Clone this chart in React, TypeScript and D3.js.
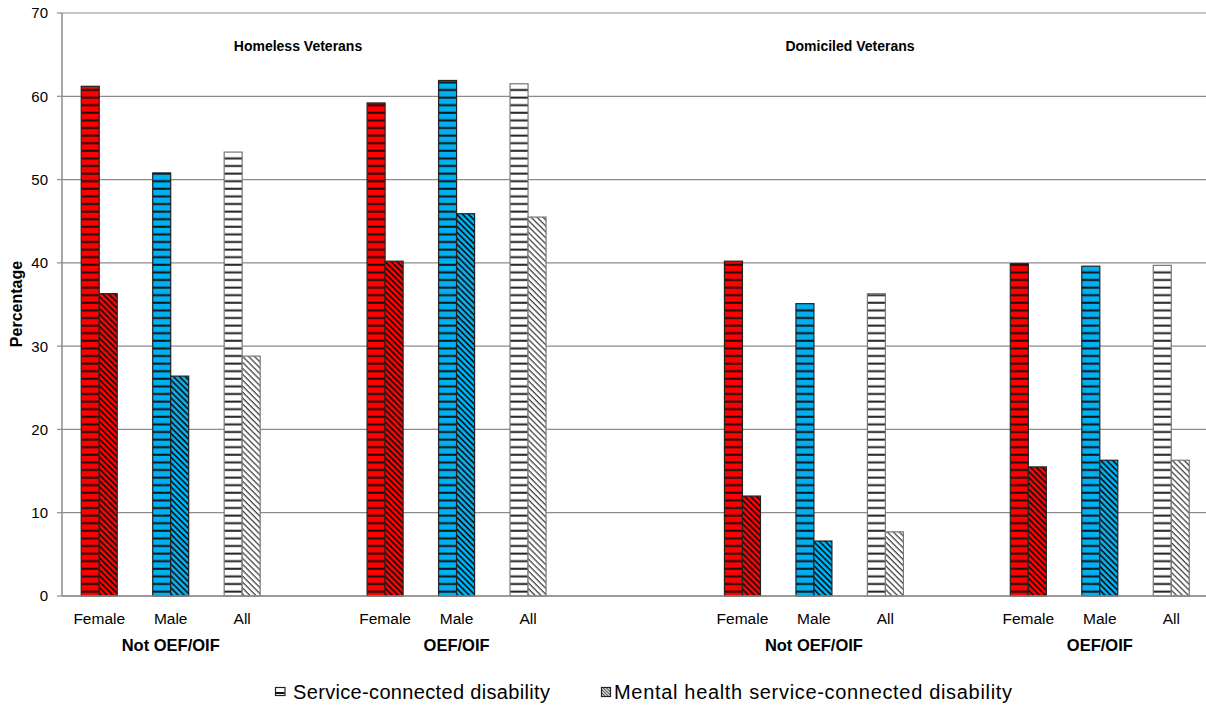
import React from "react";
import * as d3 from "d3";

const W = 1206;
const H = 705;

const slots = ["NF", "NM", "NA", "g1", "OF", "OM", "OA", "g2", "g3", "DNF", "DNM", "DNA", "g4", "DOF", "DOM", "DOA"];
const barSlots = ["NF", "NM", "NA", "OF", "OM", "OA", "DNF", "DNM", "DNA", "DOF", "DOM", "DOA"];
const subLabels = ["Female", "Male", "All", "Female", "Male", "All", "Female", "Male", "All", "Female", "Male", "All"];
const kinds = ["red", "blue", "white", "red", "blue", "white", "red", "blue", "white", "red", "blue", "white"];
const serviceConnected = [61.2, 50.8, 53.3, 59.2, 61.9, 61.5, 40.2, 35.1, 36.3, 39.9, 39.6, 39.7];
const mentalHealth = [36.3, 26.4, 28.8, 40.2, 45.9, 45.5, 12.0, 6.6, 7.7, 15.5, 16.3, 16.3];
const groupLabels = ["Not OEF/OIF", "OEF/OIF", "Not OEF/OIF", "OEF/OIF"];
const groupCenters = ["NM", "OM", "DNM", "DOM"];
const yTicks = [0, 10, 20, 30, 40, 50, 60, 70];
const legendLabels = ["Service-connected disability", "Mental health service-connected disability"];

const colors: Record<string, string> = { red: "#FF0000", blue: "#00B0F0", white: "#FFFFFF" };

export default function App() {
  const left = 62;
  const right = 1207;
  const top = 13;
  const bottom = 596;
  const x = d3.scaleBand<string>().domain(slots).range([left + 1.5, right]).paddingInner(0).paddingOuter(0);
  const y = d3.scaleLinear().domain([0, 70]).range([bottom, top]);
  const bw = x.bandwidth();
  const barW = 18;

  return (
    <div style={{ position: "absolute", left: 0, top: 0 }}>
      <svg width={W} height={H} style={{ display: "block", fontFamily: "Arial, 'Liberation Sans', sans-serif" }}>
        <defs>
          {Object.keys(colors).map((k) => (
            <pattern key={"h" + k} id={"h-" + k} patternUnits="userSpaceOnUse" width={8} height={7.6}>
              <rect width={8} height={7.6} fill={colors[k]} />
              <rect y={5.4} width={8} height={2} fill={k === "white" ? "#222" : "#111"} />
            </pattern>
          ))}
          {Object.keys(colors).map((k) => (
            <pattern key={"d" + k} id={"d-" + k} patternUnits="userSpaceOnUse" width={8} height={4.2} patternTransform="rotate(45)">
              <rect width={8} height={4.2} fill={colors[k]} />
              <rect y={0} width={8} height={k === "white" ? 1.3 : 1.6} fill={k === "white" ? "#444" : "#111"} />
            </pattern>
          ))}
          <pattern id="leg-d" patternUnits="userSpaceOnUse" width={3} height={2.2} patternTransform="rotate(45)">
            <rect width={3} height={2.2} fill="#fff" />
            <rect width={3} height={1} fill="#333" />
          </pattern>
        </defs>

        {/* gridlines */}
        {yTicks.map((t) => (
          <line key={"g" + t} x1={left} x2={W} y1={y(t)} y2={y(t)} stroke="#8c8c8c" strokeWidth={1.2} />
        ))}
        {/* y axis */}
        <line x1={left} x2={left} y1={top} y2={bottom} stroke="#8c8c8c" strokeWidth={1.5} />
        {yTicks.map((t) => (
          <g key={"t" + t}>
            <line x1={left - 5} x2={left} y1={y(t)} y2={y(t)} stroke="#8c8c8c" strokeWidth={1.2} />
            <text x={left - 14} y={y(t)} dy="0.36em" textAnchor="end" fontSize={15} fill="#000">
              {t}
            </text>
          </g>
        ))}

        {/* bars */}
        {barSlots.map((s, i) => {
          const cx = (x(s) as number) + bw / 2;
          const k = kinds[i];
          const stroke = k === "white" ? "#777" : "#222";
          return (
            <g key={s}>
              <rect x={cx - barW} y={y(serviceConnected[i])} width={barW} height={y(0) - y(serviceConnected[i])} fill={`url(#h-${k})`} stroke={stroke} strokeWidth={1.2} />
              <rect x={cx} y={y(mentalHealth[i])} width={barW} height={y(0) - y(mentalHealth[i])} fill={`url(#d-${k})`} stroke={stroke} strokeWidth={1.2} />
            </g>
          );
        })}

        {/* x axis */}
        <line x1={left} x2={W} y1={bottom} y2={bottom} stroke="#8c8c8c" strokeWidth={1.5} />

        {/* sub labels */}
        {barSlots.map((s, i) => (
          <text key={"l" + s} x={(x(s) as number) + bw / 2} y={623.5} textAnchor="middle" fontSize={15.5} fill="#000">
            {subLabels[i]}
          </text>
        ))}
        {groupCenters.map((s, i) => (
          <text key={"gl" + i} x={(x(s) as number) + bw / 2} y={651} textAnchor="middle" fontSize={16.5} fontWeight="bold" fill="#000">
            {groupLabels[i]}
          </text>
        ))}

        {/* annotations */}
        <text x={298} y={51} textAnchor="middle" fontSize={14} fontWeight="bold">Homeless Veterans</text>
        <text x={850} y={51} textAnchor="middle" fontSize={14} fontWeight="bold">Domiciled Veterans</text>

        {/* y title */}
        <text transform={`translate(22,304) rotate(-90)`} textAnchor="middle" fontSize={16} fontWeight="bold">
          Percentage
        </text>

        {/* legend */}
        <rect x={275.5} y={687.5} width={9.5} height={8} fill="#fff" stroke="#222" strokeWidth={1.2} />
        <rect x={276} y={692} width={8.5} height={2} fill="#111" />
        <text x={293} y={698.5} fontSize={20} textLength={257} lengthAdjust="spacing">{legendLabels[0]}</text>
        <rect x={601.5} y={687.5} width={9} height={9} fill="url(#leg-d)" stroke="#222" strokeWidth={1.2} />
        <text x={614} y={698.5} fontSize={20} textLength={398} lengthAdjust="spacing">{legendLabels[1]}</text>
      </svg>
    </div>
  );
}
